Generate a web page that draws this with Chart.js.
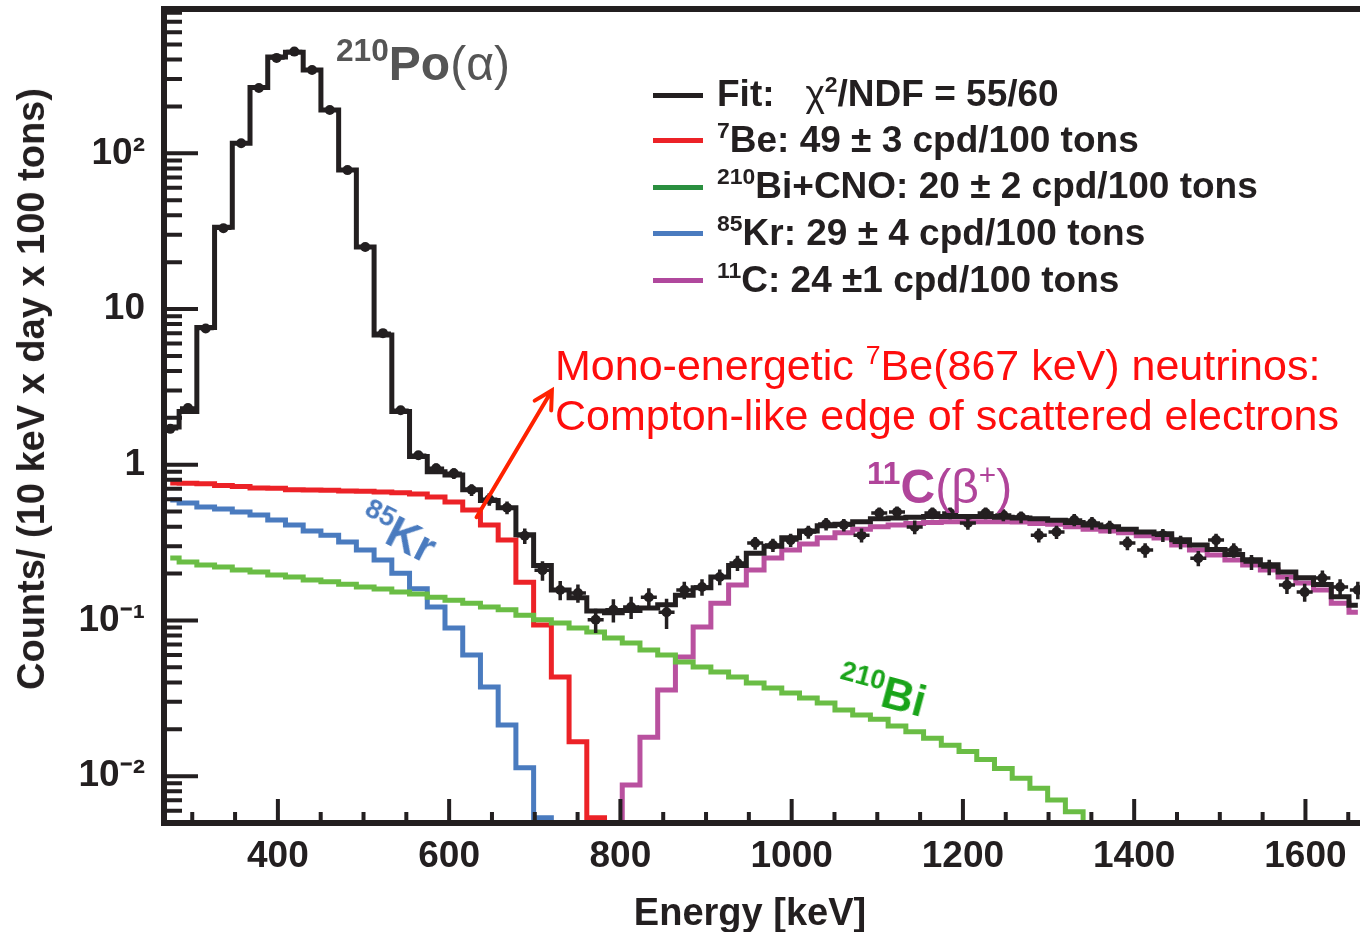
<!DOCTYPE html>
<html><head><meta charset="utf-8">
<script src="https://cdn.jsdelivr.net/npm/chart.js@4.4.1/dist/chart.umd.min.js"></script>
<style>
html,body{margin:0;padding:0;background:#fff;overflow:hidden;width:1360px;height:932px;}
#wrap{position:absolute;left:0;top:0;width:1440px;height:932px;}
canvas{position:absolute;left:0;top:0;}
.t{position:absolute;white-space:nowrap;line-height:1;font-family:'Liberation Sans',Arial,sans-serif;color:#231f20;}
.b{font-weight:bold;}
.n{font-weight:normal;}
.sp{font-size:0.62em;position:relative;top:-0.6em;}
.ln{position:absolute;left:653px;width:50px;height:5px;}
</style></head>
<body>
<div id="wrap">
<canvas id="c" width="1440" height="932"></canvas>

<!-- legend -->
<div class="ln" style="top:93px;background:#231f20"></div>
<div class="ln" style="top:138px;background:#ec2227"></div>
<div class="ln" style="top:185px;background:#2a8f3f"></div>
<div class="ln" style="top:231px;background:#4a7bbf"></div>
<div class="ln" style="top:278px;background:#b0489d"></div>
<div class="t b" style="left:717px;top:75px;font-size:37px">Fit:&nbsp;&nbsp; <span class="n">χ</span><span class="sp">2</span>/NDF = 55/60</div>
<div class="t b" style="left:717px;top:121px;font-size:37px"><span class="sp">7</span>Be: 49 ± 3 cpd/100 tons</div>
<div class="t b" style="left:717px;top:167px;font-size:37px"><span class="sp">210</span>Bi+CNO: 20 ± 2 cpd/100 tons</div>
<div class="t b" style="left:717px;top:214px;font-size:37px"><span class="sp">85</span>Kr: 29 ± 4 cpd/100 tons</div>
<div class="t b" style="left:717px;top:261px;font-size:37px"><span class="sp">11</span>C: 24 ±1 cpd/100 tons</div>

<!-- annotations -->
<div class="t" style="left:555px;top:344px;font-size:43px;color:#ff0d0d">Mono-energetic <span class="sp">7</span>Be(867 keV) neutrinos:</div>
<div class="t" style="left:555px;top:394px;font-size:43px;color:#ff0d0d">Compton-like edge of scattered electrons</div>
<div class="t b" style="left:336px;top:40px;font-size:48px;color:#555"><span class="sp" style="font-size:0.66em">210</span>Po<span class="n">(α)</span></div>
<div class="t b" style="left:867px;top:463px;font-size:48px;color:#b0449a"><span class="sp" style="font-size:0.66em">11</span>C<span class="n">(β<span class="sp">+</span>)</span></div>
<div class="t b" style="left:398px;top:533px;font-size:44px;color:#4a7bbf;transform:translate(-50%,-50%) rotate(27deg)"><span class="sp">85</span>Kr</div>
<div class="t b" style="left:882px;top:691px;font-size:44px;color:#19a419;transform:translate(-50%,-50%) rotate(15deg)"><span class="sp">210</span>Bi</div>

<!-- axis titles -->
<div class="t b" style="left:750px;top:893px;font-size:38px;transform:translateX(-50%)">Energy [keV]</div>
<div class="t b" style="left:31px;top:389px;font-size:38px;transform:translate(-50%,-50%) rotate(-90deg)">Counts/ (10 keV x day x 100 tons)</div>
</div>

<script>
// bin centres (keV)
const energies = [274.3, 295.0, 315.7, 336.4, 357.1, 377.8, 398.5, 419.2, 439.9, 460.6,
  481.3, 502.0, 522.7, 543.4, 564.1, 584.8, 605.5, 626.2, 646.9, 667.6,
  688.3, 709.0, 729.7, 750.4, 771.1, 791.8, 812.5, 833.2, 853.9, 874.6,
  895.3, 916.0, 936.7, 957.4, 978.1, 998.8, 1019.5, 1040.2, 1060.9, 1081.6,
  1102.3, 1123.0, 1143.7, 1164.4, 1185.1, 1205.8, 1226.5, 1247.2, 1267.9, 1288.6,
  1309.3, 1330.0, 1350.7, 1371.4, 1392.1, 1412.8, 1433.5, 1454.2, 1474.9, 1495.6,
  1516.3, 1537.0, 1557.7, 1578.4, 1599.1, 1619.8, 1640.5, 1661.2];

// total fit (black histogram)
const fitCounts = [1.75, 2.2, 7.6, 33.5, 116, 265, 415, 445, 343, 190,
  78, 25, 6.8, 2.2, 1.13, 0.90, 0.86, 0.69, 0.59, 0.53,
  0.355, 0.225, 0.157, 0.140, 0.115, 0.112, 0.116, 0.120, 0.126, 0.145,
  0.162, 0.19, 0.225, 0.27, 0.30, 0.34, 0.375, 0.405, 0.415, 0.43,
  0.45, 0.455, 0.46, 0.465, 0.465, 0.465, 0.465, 0.46, 0.455, 0.45,
  0.44, 0.425, 0.41, 0.40, 0.385, 0.37, 0.36, 0.33, 0.305, 0.285,
  0.265, 0.245, 0.228, 0.205, 0.188, 0.17, 0.142, 0.125];

// measured spectrum (points) and errors
const dataCounts = [1.70, 2.31, 7.5, 33, 116, 263, 410, 450, 343, 190,
  78, 25, 7.0, 2.24, 1.15, 0.95, 0.88, 0.69, 0.60, 0.53,
  0.35, 0.21, 0.157, 0.150, 0.101, 0.117, 0.122, 0.141, 0.113, 0.157,
  0.164, 0.19, 0.234, 0.314, 0.305, 0.328, 0.37, 0.416, 0.41, 0.353,
  0.489, 0.497, 0.398, 0.489, 0.489, 0.422, 0.489, 0.475, 0.461, 0.353,
  0.37, 0.442, 0.422, 0.398, 0.314, 0.283, 0.353, 0.318, 0.251, 0.328,
  0.283, 0.237, 0.22, 0.169, 0.152, 0.187, 0.164, 0.157];
const dataErrors = [0.08, 0.1, 0.25, 0.7, 1.5, 2.5, 3, 3, 2.6, 1.8,
  1.0, 0.5, 0.22, 0.1, 0.07, 0.07, 0.07, 0.06, 0.055, 0.05,
  0.04, 0.03, 0.022, 0.02, 0.018, 0.02, 0.02, 0.02, 0.025, 0.02,
  0.02, 0.022, 0.026, 0.03, 0.03, 0.032, 0.035, 0.038, 0.038, 0.036,
  0.042, 0.042, 0.04, 0.042, 0.042, 0.04, 0.042, 0.042, 0.04, 0.036,
  0.036, 0.04, 0.04, 0.038, 0.032, 0.03, 0.034, 0.032, 0.028, 0.032,
  0.03, 0.026, 0.025, 0.021, 0.02, 0.022, 0.02, 0.02];

// components
const be7 = [0.763, 0.76, 0.755, 0.735, 0.725, 0.71, 0.705, 0.69, 0.688, 0.685,
  0.678, 0.675, 0.668, 0.66, 0.649, 0.621, 0.577, 0.512, 0.41, 0.328,
  0.176, 0.0935, 0.0433, 0.0166, 0.0054, 0.001];
const kr85 = [0.594, 0.568, 0.536, 0.52, 0.497, 0.475, 0.442, 0.41, 0.375, 0.353,
  0.319, 0.283, 0.244, 0.201, 0.16, 0.122, 0.0894, 0.060, 0.0374, 0.0213,
  0.0113, 0.0054, 0.001];
const bi210 = [0.252, 0.237, 0.227, 0.220, 0.211, 0.205, 0.196, 0.190, 0.182, 0.177,
  0.171, 0.164, 0.159, 0.152, 0.148, 0.141, 0.135, 0.129, 0.122, 0.117,
  0.108, 0.101, 0.0963, 0.0894, 0.0842, 0.0771, 0.0716, 0.0646, 0.0600, 0.0541,
  0.0502, 0.0466, 0.0433, 0.0397, 0.0368, 0.0342, 0.0318, 0.0295, 0.0266, 0.0247,
  0.0232, 0.0210, 0.0193, 0.0175, 0.0158, 0.0144, 0.0128, 0.0112, 0.0097, 0.00835,
  0.00703, 0.00591, 0.001];
const c11 = [null, null, null, null, null, null, null, null, null, null,
  null, null, null, null, null, null, null, null, null, null,
  null, null, null, null, null, 0.001, 0.00877, 0.0178, 0.0357, 0.0582,
  0.0908, 0.129, 0.169, 0.211, 0.252, 0.283, 0.31, 0.34, 0.365, 0.385,
  0.40, 0.41, 0.42, 0.425, 0.43, 0.43, 0.43, 0.43, 0.428, 0.42,
  0.415, 0.40, 0.385, 0.375, 0.365, 0.35, 0.338, 0.305, 0.283, 0.263,
  0.244, 0.227, 0.211, 0.190, 0.174, 0.157, 0.129, 0.113];

const xTickValues = [400, 600, 800, 1000, 1200, 1400, 1600];
const yTickValues = [0.01, 0.1, 1, 10, 100];
const yTickLabels = ['10⁻²', '10⁻¹', '1', '10', '10²'];
const arrowFrom = {x: 632, y: 0.46};
const arrowTo = {x: 720, y: 3.0};

const pts = arr => arr.map((v, i) => ({x: energies[i], y: v}));
const stepLine = (arr, color, w) => ({
  type: 'line', data: pts(arr), borderColor: color, borderWidth: w,
  stepped: 'middle', pointRadius: 0, fill: false, spanGaps: false
});

const INK = '#231f20';
const overlay = {
  id: 'overlay',
  afterDatasetsDraw(chart) {
    const {ctx, chartArea: a, scales: {x, y}} = chart;
    ctx.save();
    ctx.beginPath(); ctx.rect(a.left, a.top, a.right - a.left, a.bottom - a.top); ctx.clip();
    // error bars on the data points
    ctx.strokeStyle = INK; ctx.lineWidth = 3.5;
    dataCounts.forEach((v, i) => {
      const px = x.getPixelForValue(energies[i]);
      const py = y.getPixelForValue(v);
      const y1 = y.getPixelForValue(v + dataErrors[i]);
      const y2 = y.getPixelForValue(Math.max(v - dataErrors[i], 1e-4));
      ctx.beginPath();
      ctx.moveTo(px, y1); ctx.lineTo(px, y2);
      ctx.moveTo(px - 8, py); ctx.lineTo(px + 8, py);
      ctx.stroke();
    });
    // arrow
    const ax0 = x.getPixelForValue(arrowFrom.x), ay0 = y.getPixelForValue(arrowFrom.y);
    const ax1 = x.getPixelForValue(arrowTo.x), ay1 = y.getPixelForValue(arrowTo.y);
    const ang = Math.atan2(ay1 - ay0, ax1 - ax0);
    ctx.strokeStyle = '#ff2200'; ctx.lineWidth = 4; ctx.lineCap = 'round';
    ctx.beginPath(); ctx.moveTo(ax0, ay0); ctx.lineTo(ax1, ay1);
    ctx.moveTo(ax1 - 20 * Math.cos(ang - 0.5), ay1 - 20 * Math.sin(ang - 0.5));
    ctx.lineTo(ax1, ay1);
    ctx.lineTo(ax1 - 20 * Math.cos(ang + 0.5), ay1 - 20 * Math.sin(ang + 0.5));
    ctx.stroke();
    ctx.restore();

    // tick marks (inside) and frame
    ctx.save();
    ctx.strokeStyle = INK; ctx.lineWidth = 4; ctx.lineCap = 'butt';
    ctx.beginPath();
    for (let e = -3; e <= 3; e++) {
      for (let m = 1; m <= 9; m++) {
        const v = m * Math.pow(10, e);
        if (v < y.min || v > y.max) continue;
        const py = y.getPixelForValue(v);
        ctx.moveTo(a.left, py); ctx.lineTo(a.left + (m === 1 ? 34 : 18), py);
      }
    }
    for (let v = 300; v <= x.max; v += 50) {
      const px = x.getPixelForValue(v);
      ctx.moveTo(px, a.bottom); ctx.lineTo(px, a.bottom - (v % 200 === 0 ? 24 : 11));
    }
    ctx.stroke();
    ctx.lineWidth = 6;
    ctx.strokeRect(a.left, a.top, a.right - a.left + 20, a.bottom - a.top);
    ctx.restore();
  }
};

new Chart(document.getElementById('c'), {
  data: {
    datasets: [
      stepLine(fitCounts, INK, 5),
      stepLine(bi210, '#6abd45', 5),
      stepLine(kr85, '#4a7bbf', 5),
      stepLine(be7, '#ec2227', 5),
      stepLine(c11, '#b9519f', 5),
      {type: 'line', data: pts(dataCounts), showLine: false, pointRadius: 5,
       pointBackgroundColor: INK, pointBorderWidth: 0, borderColor: INK}
    ]
  },
  options: {
    responsive: false, animation: false, devicePixelRatio: 1,
    layout: {padding: {top: 9, right: 0, left: 0, bottom: 0}},
    plugins: {legend: {display: false}, tooltip: {enabled: false}},
    scales: {
      x: {
        type: 'linear', min: 267, max: 1751.3,
        afterBuildTicks: s => { s.ticks = xTickValues.map(v => ({value: v})); },
        afterFit: s => { s.height = 109; s.paddingLeft = 0; s.paddingRight = 0; },
        grid: {display: false}, border: {display: false},
        ticks: {padding: 4, autoSkip: false, maxRotation: 0, color: INK,
          font: {family: "'Liberation Sans',Arial", size: 37, weight: 'bold'},
          callback: v => String(v)}
      },
      y: {
        type: 'logarithmic', min: 0.0050, max: 845,
        afterBuildTicks: s => { s.ticks = yTickValues.map(v => ({value: v})); },
        afterFit: s => { s.width = 164; s.paddingTop = 0; s.paddingBottom = 0; },
        grid: {display: false}, border: {display: false},
        ticks: {padding: 11, autoSkip: false, color: INK,
          font: {family: "'Liberation Sans',Arial", size: 37, weight: 'bold'},
          callback: (v, i) => yTickLabels[i]}
      }
    }
  },
  plugins: [overlay]
});
</script>
</body></html>
